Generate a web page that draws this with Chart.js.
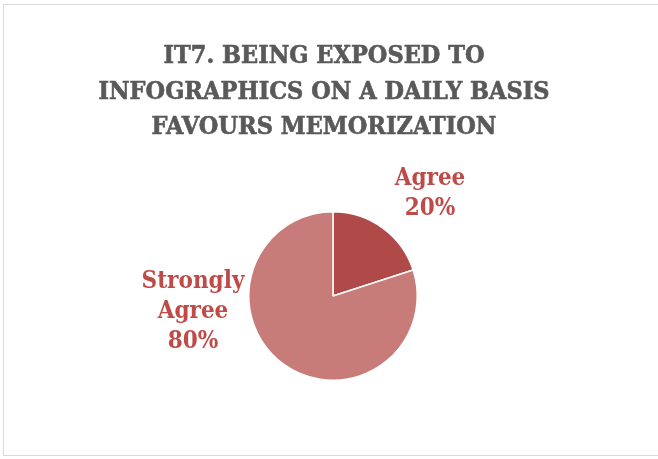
<!DOCTYPE html>
<html>
<head>
<meta charset="utf-8">
<script src="https://cdn.jsdelivr.net/npm/chart.js@4.4.0/dist/chart.umd.min.js"></script>
<style>
    html, body {
        margin: 0;
        padding: 0;
        background: #ffffff;
        overflow: hidden;
    }
    .frame {
        position: absolute;
        left: 3px;
        top: 4px;
        width: 680px;
        height: 452px;
        border: 1.5px solid #d9d9d9;
        box-sizing: border-box;
    }
    .chart-box {
        position: absolute;
        left: 0;
        top: 0;
        width: 658px;
        height: 459px;
    }
</style>
</head>
<body>
<div class="frame"></div>
<div class="chart-box"><canvas id="pieChart"></canvas></div>
<script>
// Chart data
const titleLines = ['IT7. BEING EXPOSED TO', 'INFOGRAPHICS ON A DAILY BASIS', 'FAVOURS MEMORIZATION'];
const categories = ['Agree', 'Strongly Agree'];
const shares = [20, 80];

const sliceColors = ['#b04a48', '#c87c7a'];
const textFont = '"DejaVu Serif Condensed", "DejaVu Serif", serif';

// Label anchor offsets from the pie centre, with the wrapped text lines
const labelLayout = [
    { dx: 97, dy: -102, lines: ['Agree', '20%'] },
    { dx: -140, dy: 16, lines: ['Strongly', 'Agree', '80%'] }
];

// Title drawn as three centred lines, lightly stroked to thicken the bold face
const titlePlugin = {
    id: 'titleLines',
    afterDraw(chart) {
        const ctx = chart.ctx;
        ctx.save();
        ctx.fillStyle = '#595959';
        ctx.strokeStyle = '#595959';
        ctx.lineWidth = 0.6;
        ctx.font = 'bold 25px ' + textFont;
        ctx.textAlign = 'center';
        ctx.textBaseline = 'alphabetic';
        titleLines.forEach((line, i) => {
            ctx.fillText(line, 324, 63 + i * 35.5);
            ctx.strokeText(line, 324, 63 + i * 35.5);
        });
        ctx.restore();
    }
};

// Category name and percentage next to each slice
const labelPlugin = {
    id: 'sliceLabels',
    afterDatasetsDraw(chart) {
        const ctx = chart.ctx;
        const meta = chart.getDatasetMeta(0);
        const total = shares.reduce((a, b) => a + b, 0);
        ctx.save();
        ctx.fillStyle = '#be4b48';
        ctx.font = 'bold 24px ' + textFont;
        ctx.textAlign = 'center';
        ctx.textBaseline = 'middle';
        meta.data.forEach((arc, i) => {
            const layout = labelLayout[i];
            const pct = Math.round(shares[i] / total * 100) + '%';
            const lines = layout.lines.slice(0, -1).concat(pct);
            const x = arc.x + layout.dx;
            const y0 = arc.y + layout.dy - (lines.length - 1) * 15;
            lines.forEach((line, j) => {
                ctx.fillText(line, x, y0 + j * 30);
            });
        });
        ctx.restore();
    }
};

const ctx = document.getElementById('pieChart').getContext('2d');
new Chart(ctx, {
    type: 'pie',
    data: {
        labels: categories,
        datasets: [{
            data: shares,
            backgroundColor: sliceColors,
            borderColor: '#ffffff',
            borderWidth: 1.5
        }]
    },
    options: {
        responsive: true,
        maintainAspectRatio: false,
        animation: false,
        rotation: 0,
        layout: {
            padding: { top: 211, bottom: 78, left: 200, right: 192 }
        },
        plugins: {
            legend: { display: false },
            title: { display: false },
            tooltip: { enabled: false }
        }
    },
    plugins: [titlePlugin, labelPlugin]
});
</script>
</body>
</html>
